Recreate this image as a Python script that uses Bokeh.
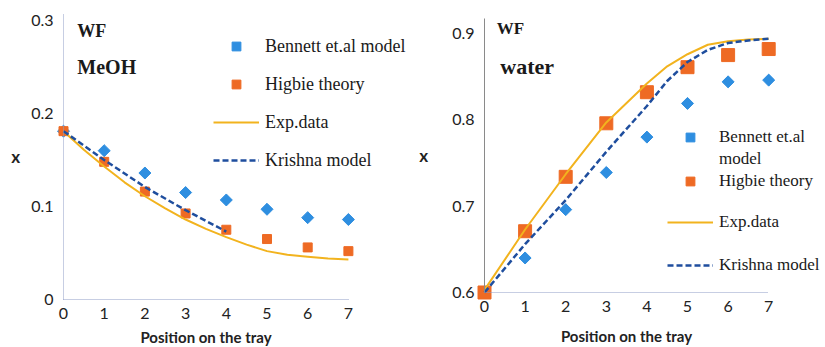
from bokeh.plotting import figure
from bokeh.layouts import row
from bokeh.models import Range1d, FixedTicker, Legend, LegendItem, Label
from bokeh.embed import file_html
from bokeh.resources import INLINE

# ---------------- data ----------------
positions = [0, 1, 2, 3, 4, 5, 6, 7]
position_ticks = [0, 1, 2, 3, 4, 5, 6, 7]
x_title = "Position on the tray"

# MeOH panel
meoh_bennett = [0.181, 0.160, 0.136, 0.115, 0.107, 0.097, 0.088, 0.086]
meoh_higbie = [0.181, 0.148, 0.116, 0.0925, 0.075, 0.065, 0.056, 0.052]
meoh_exp_x = [0, 0.5, 1, 1.5, 2, 2.5, 3, 3.5, 4, 4.5, 5, 5.5, 6, 6.5, 7]
meoh_exp = [0.181, 0.161, 0.143, 0.126, 0.111, 0.098, 0.086, 0.076, 0.067,
            0.059, 0.052, 0.048, 0.046, 0.044, 0.043]
meoh_krishna_x = [0, 1, 2, 3, 4]
meoh_krishna = [0.181, 0.150, 0.121, 0.096, 0.073]
meoh_yticks = [0, 0.1, 0.2, 0.3]
meoh_ylabels = ["0", "0.1", "0.2", "0.3"]

# water panel
water_bennett = [0.600, 0.640, 0.696, 0.739, 0.780, 0.819, 0.844, 0.846]
water_higbie = [0.600, 0.671, 0.734, 0.796, 0.832, 0.861, 0.875, 0.882]
water_exp_x = [0, 1, 2, 3, 4, 4.5, 5, 5.5, 6, 6.5, 7]
water_exp = [0.603, 0.673, 0.737, 0.797, 0.842, 0.862, 0.876, 0.887, 0.891, 0.893, 0.894]
water_krishna_x = [0, 1, 2, 3, 4, 4.5, 5, 5.5, 6, 6.5, 7]
water_krishna = [0.600, 0.656, 0.707, 0.763, 0.816, 0.845, 0.867, 0.881, 0.889, 0.892, 0.894]
water_yticks = [0.6, 0.7, 0.8, 0.9]
water_ylabels = ["0.6", "0.7", "0.8", "0.9"]

# ---------------- style ----------------
BLUE = "#2E8EE0"
ORANGE = "#EE6A24"
GOLD = "#F2B31E"
NAVY = "#1F4E9E"
SERIF = "Liberation Serif"
SANS = "Lato"
INK = "#1a1a1a"
TXT = "#222222"


def style_axes(p, yticks, ylabels, y_origin, y_top, left_axis_color, bottom_axis_color,
               ylab_standoff, xlab_standoff):
    p.xaxis.ticker = FixedTicker(ticks=position_ticks)
    p.xaxis.bounds = (0, 7)
    p.xaxis.fixed_location = y_origin
    p.yaxis.ticker = FixedTicker(ticks=yticks)
    p.yaxis.major_label_overrides = {t: l for t, l in zip(yticks, ylabels)}
    p.yaxis.fixed_location = 0
    p.yaxis.bounds = (y_origin, y_top)
    for ax in (p.xaxis, p.yaxis):
        ax.major_tick_line_color = None
        ax.minor_tick_line_color = None
        ax.major_tick_out = 0
        ax.major_tick_in = 0
        ax.major_label_text_font = SANS
        ax.major_label_text_font_size = "16px"
        ax.major_label_text_color = TXT
        ax.axis_label_text_font = SANS
        ax.axis_label_text_font_style = "bold"
        ax.axis_label_text_color = TXT
    p.xaxis.axis_line_color = bottom_axis_color
    p.yaxis.axis_line_color = left_axis_color
    p.xaxis.major_label_standoff = 9
    p.xaxis.axis_label = x_title
    p.xaxis.axis_label_text_font_size = "15px"
    p.xaxis.axis_label_standoff = xlab_standoff
    p.yaxis.major_label_standoff = 10
    p.yaxis.axis_label = "x"
    p.yaxis.axis_label_text_font_size = "17px"
    p.yaxis.axis_label_standoff = ylab_standoff
    p.yaxis.axis_label_orientation = "horizontal"
    p.xgrid.visible = False
    p.ygrid.visible = False
    p.outline_line_color = None


def legend_style(lg, size):
    lg.label_text_font = SERIF
    lg.label_text_font_size = size
    lg.label_text_color = INK
    lg.background_fill_alpha = 0
    lg.border_line_alpha = 0
    lg.padding = 0
    lg.margin = 0
    lg.glyph_width = 46
    lg.glyph_height = 22
    lg.label_height = 22
    lg.label_standoff = 6


# ---------------- left panel (MeOH) ----------------
p1 = figure(width=410, height=347, output_backend="svg", toolbar_location=None,
            x_range=Range1d(-63 / 40.7, 347 / 40.7),
            y_range=Range1d(-48 / 930, 0.3075),
            min_border_left=0, min_border_right=0, min_border_top=13,
            min_border_bottom=0)
style_axes(p1, meoh_yticks, meoh_ylabels, 0, 0.3075, "#8E9CC6", "#8E9CC6", 8, 5)
p1.yaxis.axis_line_dash = "1 1"
p1.xaxis.axis_line_dash = "1 1"

b1 = p1.scatter(positions, meoh_bennett, marker="square", size=8.5, angle=0.785398,
                fill_color=BLUE, line_color=BLUE)
h1 = p1.scatter(positions, meoh_higbie, marker="square", size=9,
                fill_color=ORANGE, line_color=ORANGE)
e1 = p1.line(meoh_exp_x, meoh_exp, line_color=GOLD, line_width=2)
k1 = p1.line(meoh_krishna_x, meoh_krishna, line_color=NAVY, line_width=2.5,
             line_dash="6 3")

lg1 = Legend(items=[LegendItem(label="Bennett et.al model", renderers=[b1]),
                    LegendItem(label="Higbie theory", renderers=[h1]),
                    LegendItem(label="Exp.data", renderers=[e1]),
                    LegendItem(label="Krishna model", renderers=[k1])],
             location=(213, 176))
legend_style(lg1, "18px")
lg1.spacing = 16
p1.add_layout(lg1)

p1.add_layout(Label(x=0.34, y=0.289, text="WF", text_font=SERIF, text_font_style="bold",
                    text_font_size="18px", text_baseline="middle", text_color=INK))
p1.add_layout(Label(x=0.34, y=0.2505, text="MeOH", text_font=SERIF, text_font_style="bold",
                    text_font_size="20px", text_baseline="middle", text_color=INK))

# ---------------- right panel (water) ----------------
p2 = figure(width=415, height=347, output_backend="svg", toolbar_location=None,
            x_range=Range1d(-74 / 40.6, 341 / 40.6),
            y_range=Range1d(0.6 - 55 / 863.3, 0.92317),
            min_border_left=0, min_border_right=0, min_border_top=13,
            min_border_bottom=0)
style_axes(p2, water_yticks, water_ylabels, 0.6, 0.9174, "#8a8a8a", "#8E9CC6", 21, 11)
p2.xaxis.axis_line_dash = "1 1"

b2 = p2.scatter(positions, water_bennett, marker="square", size=8.5, angle=0.785398,
                fill_color=BLUE, line_color=BLUE)
h2 = p2.scatter(positions, water_higbie, marker="square", size=13,
                fill_color=ORANGE, line_color=ORANGE)
e2 = p2.line(water_exp_x, water_exp, line_color=GOLD, line_width=2)
k2 = p2.line(water_krishna_x, water_krishna, line_color=NAVY, line_width=2.5,
             line_dash="6 3")
dummy = p2.scatter([-10], [0.7], marker="square", size=1, fill_alpha=0, line_alpha=0)

lg2a = Legend(items=[LegendItem(label="Bennett et.al", renderers=[b2]),
                     LegendItem(label="model", renderers=[dummy]),
                     LegendItem(label="Higbie theory", renderers=[h2])],
              location=(257, 155))
legend_style(lg2a, "17px")
lg2a.spacing = 0
p2.add_layout(lg2a)

lg2b = Legend(items=[LegendItem(label="Exp.data", renderers=[e2]),
                     LegendItem(label="Krishna model", renderers=[k2])],
              location=(257, 71))
legend_style(lg2b, "17px")
lg2b.spacing = 21
p2.add_layout(lg2b)

p2.add_layout(Label(x=0.30, y=0.9058, text="WF", text_font=SERIF, text_font_style="bold",
                    text_font_size="17px", text_baseline="middle", text_color=INK))
p2.add_layout(Label(x=0.39, y=0.8618, text="water", text_font=SERIF, text_font_style="bold",
                    text_font_size="22px", text_baseline="middle", text_color=INK))

layout = row(p1, p2)
open("out.html", "w").write(file_html(layout, INLINE))
